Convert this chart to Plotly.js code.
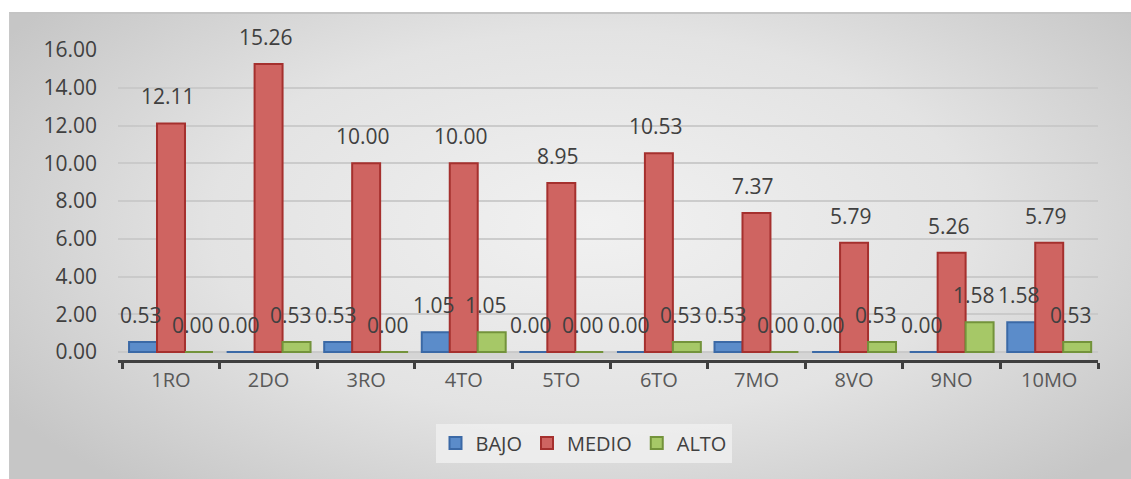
<!DOCTYPE html>
<html>
<head>
<meta charset="utf-8">
<script src="https://cdn.plot.ly/plotly-3.0.1.min.js"></script>
<style>
  html, body { margin: 0; padding: 0; background: #ffffff; }
  #wrap { position: relative; width: 1131px; height: 479px; overflow: hidden; }
  #panel {
    position: absolute; left: 9px; top: 12px; right: -2px; bottom: -2px;
    border-top: 2px solid #c4c4c4; border-left: 1px solid #c8c8c8;
    background: radial-gradient(ellipse 62% 75% at 52% 45%, #f1f1f1 0%, #e3e3e3 55%, #c6c6c6 100%);
  }
  #chart { position: absolute; left: 0; top: 0; width: 1131px; height: 479px; }
</style>
</head>
<body>
<div id="wrap">
  <div id="panel"></div>
  <div id="chart"></div>
</div>
<script>
// Grades and the share of each level per grade
const grades = ['1RO', '2DO', '3RO', '4TO', '5TO', '6TO', '7MO', '8VO', '9NO', '10MO'];
const bajo  = [0.53, 0.00, 0.53, 1.05, 0.00, 0.00, 0.53, 0.00, 0.00, 1.58];
const medio = [12.11, 15.26, 10.00, 10.00, 8.95, 10.53, 7.37, 5.79, 5.26, 5.79];
const alto  = [0.00, 0.53, 0.00, 1.05, 0.00, 0.53, 0.00, 0.53, 1.58, 0.53];
const yTicks = [0, 2, 4, 6, 8, 10, 12, 14, 16];

const FAMILY = 'Open Sans, Liberation Sans, sans-serif';
const labelFont = { family: FAMILY, size: 21, color: '#404040' };

function series(name, values, fill, edge) {
  return {
    type: 'bar', name: name, x: grades, y: values,
    marker: { color: fill, line: { color: edge, width: 2 } },
    hoverinfo: 'x+y+name'
  };
}

const seriesList = [
  { name: 'BAJO',  values: bajo,  fill: '#5b8cca', edge: '#3b69a6', shift: -30 },
  { name: 'MEDIO', values: medio, fill: '#cf6461', edge: '#a5302e', shift: -3 },
  { name: 'ALTO',  values: alto,  fill: '#a6c867', edge: '#73933b', shift: 22 }
];

const traces = seriesList.map(s => series(s.name, s.values, s.fill, s.edge));

// value labels sit a little above each column
const annotations = [];
seriesList.forEach(s => {
  s.values.forEach((v, i) => {
    annotations.push({
      x: grades[i], y: v, xref: 'x', yref: 'y',
      text: v.toFixed(2), showarrow: false,
      xanchor: 'center', yanchor: 'bottom', xshift: s.shift, yshift: 11,
      font: labelFont
    });
  });
});

const layout = {
  width: 1131, height: 479,
  paper_bgcolor: 'rgba(0,0,0,0)', plot_bgcolor: 'rgba(0,0,0,0)',
  margin: { l: 118, r: 33, t: 50, b: 119 },
  barmode: 'group', bargap: 0.14, bargroupgap: 0,
  font: labelFont,
  xaxis: {
    type: 'category', showgrid: false, zeroline: false,
    showline: true, linecolor: '#3f3f3f', linewidth: 3,
    ticks: 'outside', tickson: 'boundaries', ticklen: 6, tickwidth: 3, tickcolor: '#3f3f3f',
    tickfont: { family: FAMILY, size: 20, color: '#595959' }
  },
  yaxis: {
    range: [-0.42, 16], tickvals: yTicks, tickformat: '.2f',
    showgrid: true, gridcolor: 'rgba(200,200,200,0.9)', gridwidth: 2,
    zeroline: false, showline: false, ticks: '', ticklabelstandoff: 20,
    tickfont: { family: FAMILY, size: 21, color: '#404040' }
  },
  shapes: [{
    type: 'rect', xref: 'paper', yref: 'y', x0: 0, x1: 0.99, y0: -0.38, y1: 0,
    fillcolor: '#d5d5d5', line: { width: 0 }, layer: 'below'
  }],
  annotations: annotations,
  legend: {
    orientation: 'h', x: 0.475, xanchor: 'center', y: -0.205, yanchor: 'top',
    bgcolor: 'rgba(238,238,238,0.85)', borderwidth: 0,
    font: { family: FAMILY, size: 20, color: '#404040' },
    itemwidth: 30, traceorder: 'normal'
  },
  showlegend: true
};

Plotly.newPlot('chart', traces, layout, { displayModeBar: false, staticPlot: true });
</script>
</body>
</html>
